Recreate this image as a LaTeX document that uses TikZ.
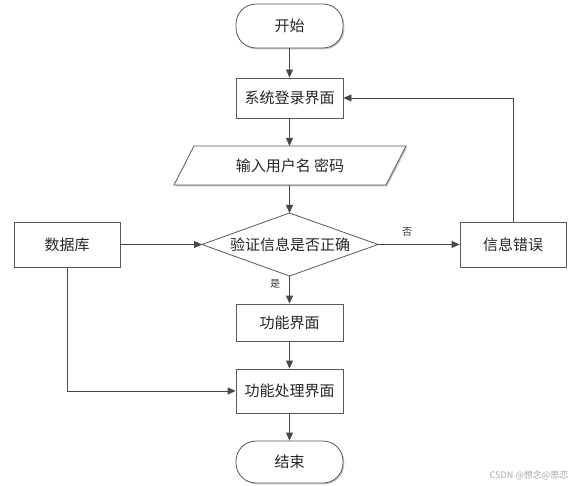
\documentclass[tikz,border=0pt]{standalone}
\usepackage{fontspec}
\newfontfamily\cjk{Noto Sans CJK SC}
\usetikzlibrary{arrows.meta,shadows}
\begin{document}
\begin{tikzpicture}[x=1pt,y=-1pt,
  shd/.style={general shadow={fill=black!22, shadow xshift=1.3pt, shadow yshift=-1.3pt}},
  box/.style={draw=black!65, line width=0.8pt, fill=white, minimum width=107pt,
    minimum height=41pt, inner sep=0pt, text=black!85,
    font=\cjk\fontsize{15}{18}\selectfont, shd},
  term/.style={box, rounded corners=20pt},
  txt/.style={inner sep=0pt, text=black!85, font=\cjk\fontsize{15}{18}\selectfont},
  lbl/.style={inner sep=0pt, text=black!80, font=\cjk\fontsize{10}{12}\selectfont},
  conn/.style={draw=black!72, line width=0.8pt, -{Triangle[length=8pt,width=7pt]}}]
\useasboundingbox (0,0) rectangle (578,486);

% nodes
\node[term, minimum height=44pt] (start) at (289.5,26) {开始};
\node[box, minimum height=40pt] (login) at (289.5,98) {系统登录界面};

\fill[black!22] (175.3,186.3) -- (195.3,147.3) -- (407.3,147.3) -- (387.3,186.3) -- cycle;
\draw[draw=black!65, line width=0.8pt, fill=white] (174,185) -- (194,146) -- (406,146) -- (386,185) -- cycle;
\node[txt] (inp) at (290,166) {输入用户名 密码};
\coordinate (inTop) at (289.5,146);
\coordinate (inBot) at (289.5,185);

\draw[draw=black!65, line width=0.8pt, fill=white] (202,244.5) -- (289.5,213) -- (378,244.5) -- (289.5,276) -- cycle;
\node[txt] (chk) at (290,244.5) {验证信息是否正确};
\coordinate (chkL) at (202,244.5);
\coordinate (chkR) at (378,244.5);
\coordinate (chkT) at (289.5,213);
\coordinate (chkB) at (289.5,276);

\node[box, minimum width=106pt, minimum height=45pt] (db) at (67,244.5) {数据库};
\node[box, minimum width=106pt, minimum height=45pt] (err) at (513,244.5) {信息错误};
\node[box, minimum height=37pt] (func) at (289.5,322.5) {功能界面};
\node[box, minimum height=44pt] (proc) at (289.5,391) {功能处理界面};
\node[term, minimum height=42pt] (end) at (289.5,462) {结束};

% connectors
\draw[conn] (start) -- (login);
\draw[conn] (login) -- (inTop);
\draw[conn] (inBot) -- (chkT);
\draw[conn] (db) -- (chkL);
\draw[conn] (chkR) -- (err);
\node[lbl] (no) at (407,232) {否};
\draw[conn] (chkB) -- (func);
\node[lbl] (yes) at (275,284) {是};
\draw[conn] (err.north) |- (login.east);
\draw[conn] (func) -- (proc);
\draw[conn] (db.south) |- (proc.west);
\draw[conn] (proc) -- (end);

% watermark
\node[inner sep=0pt, text=black!35, font=\cjk\fontsize{9}{11}\selectfont] (wm) at (529,475) {CSDN @想念@思恋};
\end{tikzpicture}
\end{document}
